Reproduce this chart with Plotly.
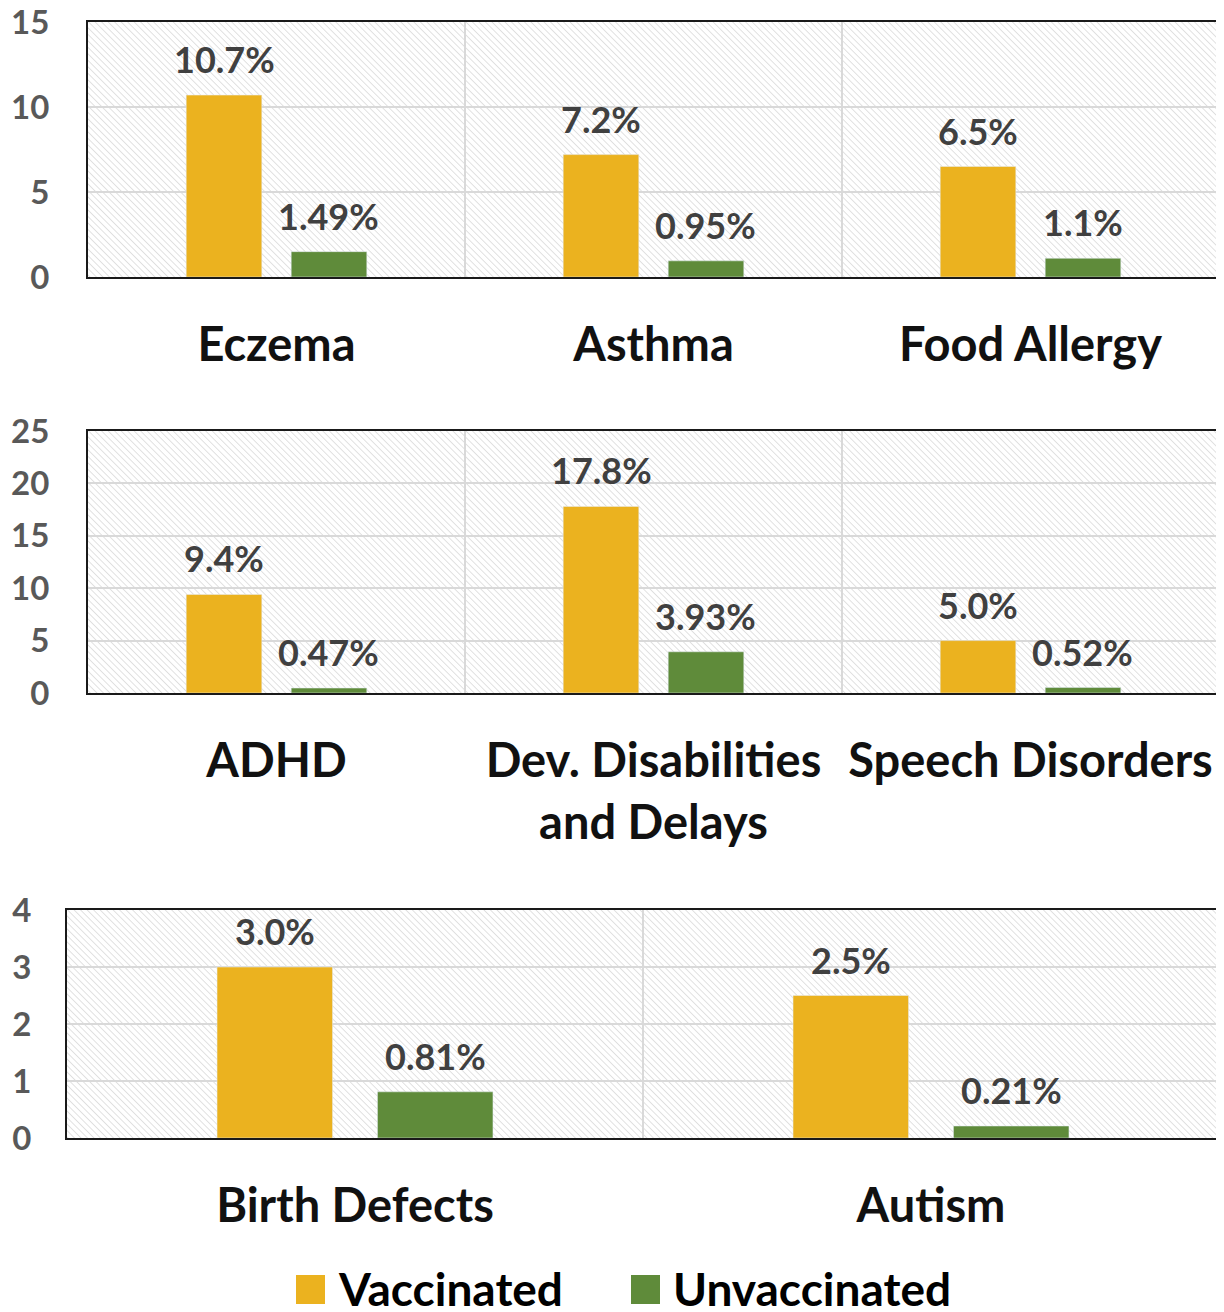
import base64
import plotly.graph_objects as go

# panel data
cats1 = ["Eczema", "Asthma", "Food Allergy"]
vacc1 = [10.7, 7.2, 6.5]
unvacc1 = [1.49, 0.95, 1.1]
vacc1_lbl = ["10.7%", "7.2%", "6.5%"]
unvacc1_lbl = ["1.49%", "0.95%", "1.1%"]

cats2 = ["ADHD", "Dev. Disabilities<br>and Delays", "Speech Disorders"]
vacc2 = [9.4, 17.8, 5.0]
unvacc2 = [0.47, 3.93, 0.52]
vacc2_lbl = ["9.4%", "17.8%", "5.0%"]
unvacc2_lbl = ["0.47%", "3.93%", "0.52%"]

cats3 = ["Birth Defects", "Autism"]
vacc3 = [3.0, 2.5]
unvacc3 = [0.81, 0.21]
vacc3_lbl = ["3.0%", "2.5%"]
unvacc3_lbl = ["0.81%", "0.21%"]

# the page body has an 8px margin, so the figure starts 8px in
PAD = 8
W, H = 1224 - PAD, 1312 - PAD
YELLOW = "#EBB21F"
GREEN = "#5F8B3A"
FONT = "Lato"


def px(x):
    return (x - PAD) / W


def py(y):
    return 1 - (y - PAD) / H


# pixel boxes of each plot area in the page: (left, top, right, bottom)
boxes = [(88, 22, 1219, 277), (88, 431, 1219, 693), (67, 910, 1219, 1138)]
yranges = [(0, 15, 5), (0, 25, 5), (0, 4, 1)]
ystandoff = [30, 30, 27]
panels = [
    (cats1, vacc1, unvacc1, vacc1_lbl, unvacc1_lbl),
    (cats2, vacc2, unvacc2, vacc2_lbl, unvacc2_lbl),
    (cats3, vacc3, unvacc3, vacc3_lbl, unvacc3_lbl),
]

BARGAP = 0.443
BARGROUPGAP = 0.28


def hatch_uri(w, h):
    svg = (
        f"<svg xmlns='http://www.w3.org/2000/svg' width='{w}' height='{h}'>"
        "<defs><pattern id='p' width='4.6' height='4.6' patternUnits='userSpaceOnUse' "
        "patternTransform='rotate(-45)'>"
        "<line x1='0' y1='0' x2='0' y2='4.6' stroke='#d2d2d2' stroke-width='1.3'/>"
        "</pattern></defs><rect width='100%' height='100%' fill='white'/>"
        "<rect width='100%' height='100%' fill='url(#p)'/></svg>"
    )
    return "data:image/svg+xml;base64," + base64.b64encode(svg.encode()).decode()


fig = go.Figure()
layout = {}
images = []
annotations = []

for i, (cats, vac, unv, vlbl, ulbl) in enumerate(panels):
    n = "" if i == 0 else str(i + 1)
    xa, ya = "x" + n, "y" + n
    l, t, r, b = boxes[i]
    fig.add_trace(go.Bar(x=cats, y=vac, marker_color=YELLOW, name="Vaccinated",
                         xaxis=xa, yaxis=ya, showlegend=False))
    fig.add_trace(go.Bar(x=cats, y=unv, marker_color=GREEN, name="Unvaccinated",
                         xaxis=xa, yaxis=ya, showlegend=False))

    layout["xaxis" + n] = dict(
        domain=[px(l), px(r)], anchor=ya, type="category", automargin=False,
        tickson="boundaries", showgrid=True, gridcolor="#d9d9d9", gridwidth=1.5,
        showline=True, mirror=True, linecolor="#1a1a1a", linewidth=2,
        ticks="", tickangle=0, ticklabelstandoff=26, ticklabeloverflow="allow",
        tickfont=dict(family=FONT, size=47, color="#111111", weight="bold"),
    )
    y0, y1, dt = yranges[i]
    layout["yaxis" + n] = dict(
        domain=[py(b), py(t)], anchor=xa, range=[y0, y1], dtick=dt, automargin=False,
        showgrid=True, gridcolor="#d9d9d9", gridwidth=1.5, zeroline=False,
        showline=True, mirror=True, linecolor="#1a1a1a", linewidth=2,
        ticks="", ticklabelstandoff=ystandoff[i], ticklabeloverflow="allow",
        tickfont=dict(family=FONT, size=33, color="#595959", weight="bold"),
    )
    images.append(dict(source=hatch_uri(r - l, b - t), xref=xa + " domain", yref=ya + " domain",
                       x=0, y=1, sizex=1, sizey=1, sizing="stretch", layer="below"))

    # label offset: half a bar slot from the category centre, in pixels
    catw = (r - l) / len(cats)
    slot = (1 - BARGAP) / 2
    off = slot / 2 * catw
    for c, v, s in zip(cats, vac, vlbl):
        annotations.append(dict(x=c, y=v, xref=xa, yref=ya, text=s, showarrow=False,
                                yanchor="bottom", xshift=-off, yshift=12,
                                font=dict(family=FONT, size=36, color="#404040", weight="bold")))
    for c, v, s in zip(cats, unv, ulbl):
        annotations.append(dict(x=c, y=v, xref=xa, yref=ya, text=s, showarrow=False,
                                yanchor="bottom", xshift=off, yshift=12,
                                font=dict(family=FONT, size=36, color="#404040", weight="bold")))

# legend drawn by hand so the swatches can be large
shapes = []
for x0, col, txt in [(296, YELLOW, "Vaccinated"), (631, GREEN, "Unvaccinated")]:
    shapes.append(dict(type="rect", xref="paper", yref="paper",
                       x0=px(x0), x1=px(x0 + 29), y0=py(1304), y1=py(1275),
                       fillcolor=col, line_width=0))
    annotations.append(dict(x=px(x0 + 40), y=py(1288), xref="paper", yref="paper",
                            text=txt, showarrow=False, xanchor="left", yanchor="middle",
                            font=dict(family=FONT, size=46, color="#000000", weight="bold")))

fig.update_layout(
    width=W, height=H,
    margin=dict(l=0, r=0, t=0, b=0, autoexpand=False),
    paper_bgcolor="white", plot_bgcolor="rgba(0,0,0,0)",
    barmode="group", bargap=BARGAP, bargroupgap=BARGROUPGAP,
    images=images, annotations=annotations, shapes=shapes,
    **layout,
)

fig.write_html("out.html")
